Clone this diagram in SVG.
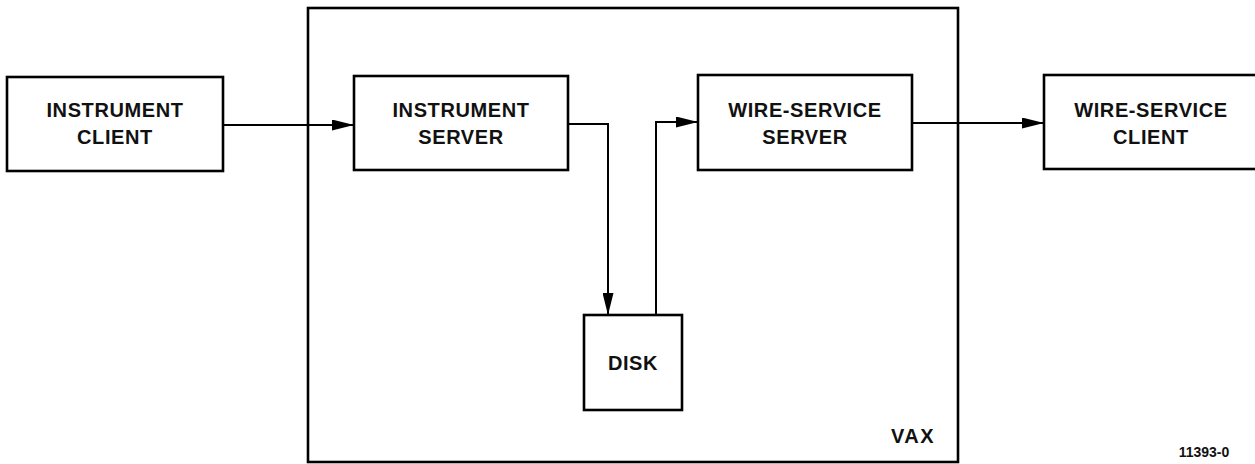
<svg xmlns="http://www.w3.org/2000/svg" width="1255" height="464" viewBox="0 0 1255 464">
  <style>
    .box { fill: none; stroke: #000; stroke-width: 2.6; }
    .wire { fill: none; stroke: #000; stroke-width: 2; }
    .lbl { font-family: "Liberation Sans", Arial, sans-serif; font-size: 20px; font-weight: bold; letter-spacing: 0.6px; text-anchor: middle; fill: #111; }
    .tag { font-family: "Liberation Sans", Arial, sans-serif; font-size: 14px; font-weight: bold; text-anchor: middle; fill: #111; }
  </style>
  <defs>
    <marker id="arrow" viewBox="0 0 22 11" refX="22" refY="5.5" markerWidth="22" markerHeight="11" markerUnits="userSpaceOnUse" orient="auto">
      <path d="M0,0 L22,5.5 L0,11 Z" fill="#000"/>
    </marker>
  </defs>

  <!-- VAX host enclosure -->
  <g id="vax">
    <rect class="box" x="308" y="8" width="650" height="454"/>
    <text class="lbl" x="913" y="443" style="letter-spacing:1.5px">VAX</text>
  </g>

  <g id="instrument-client">
    <rect class="box" x="7" y="77" width="216" height="94"/>
    <text class="lbl" x="115" y="117">INSTRUMENT</text>
    <text class="lbl" x="115" y="144">CLIENT</text>
  </g>

  <g id="instrument-server">
    <rect class="box" x="354" y="76" width="214" height="94"/>
    <text class="lbl" x="461" y="117">INSTRUMENT</text>
    <text class="lbl" x="461" y="144">SERVER</text>
  </g>

  <g id="disk">
    <rect class="box" x="584" y="315" width="98" height="95"/>
    <text class="lbl" x="633" y="370">DISK</text>
  </g>

  <g id="wire-service-server">
    <rect class="box" x="698" y="75" width="214" height="95"/>
    <text class="lbl" x="805" y="117">WIRE-SERVICE</text>
    <text class="lbl" x="805" y="144">SERVER</text>
  </g>

  <g id="wire-service-client">
    <rect class="box" x="1044" y="75" width="214" height="94"/>
    <text class="lbl" x="1151" y="117">WIRE-SERVICE</text>
    <text class="lbl" x="1151" y="144">CLIENT</text>
  </g>

  <g id="connectors">
    <path class="wire" d="M223,125 H354" marker-end="url(#arrow)"/>
    <path class="wire" d="M568,124 H608 V315" marker-end="url(#arrow)"/>
    <path class="wire" d="M656,315 V122 H698" marker-end="url(#arrow)"/>
    <path class="wire" d="M912,123 H1044" marker-end="url(#arrow)"/>
  </g>

  <text class="tag" x="1204" y="457">11393-0</text>
</svg>
